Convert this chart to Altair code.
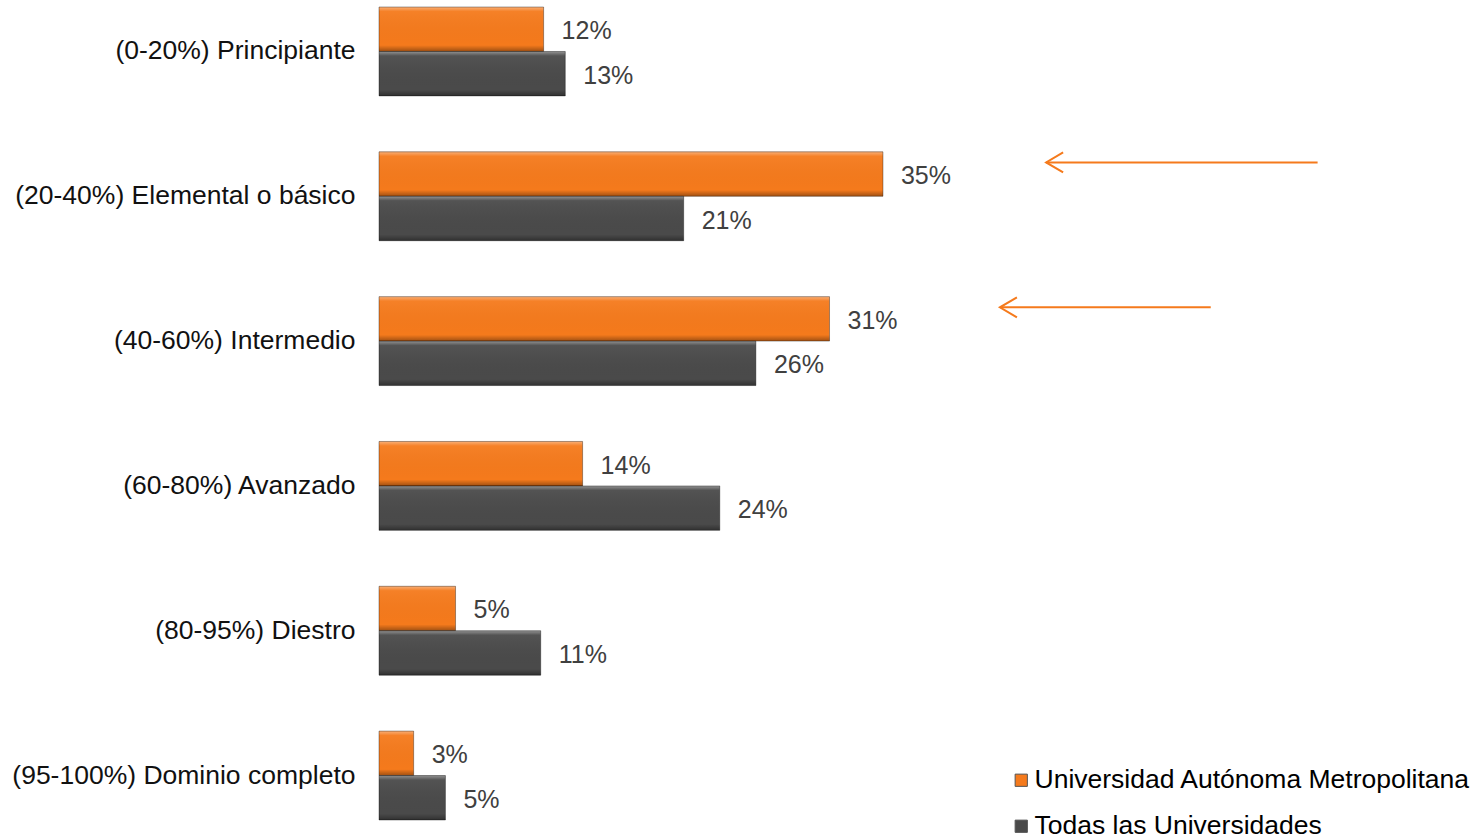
import altair as alt
import pandas as pd

categories = [
    "(0-20%) Principiante",
    "(20-40%) Elemental o básico",
    "(40-60%) Intermedio",
    "(60-80%) Avanzado",
    "(80-95%) Diestro",
    "(95-100%) Dominio completo",
]
series_names = ["Universidad Autónoma Metropolitana", "Todas las Universidades"]
uam_values = [11.4, 34.9, 31.2, 14.1, 5.3, 2.4]
todas_values = [12.9, 21.1, 26.1, 23.6, 11.2, 4.6]
uam_labels = ["12%", "35%", "31%", "14%", "5%", "3%"]
todas_labels = ["13%", "21%", "26%", "24%", "11%", "5%"]

# annotation arrows (in % units of the x axis)
arrow_categories = ["(20-40%) Elemental o básico", "(40-60%) Intermedio"]
arrow_from = [65.0, 57.6]
arrow_to = [46.2, 43.0]

ORANGE = "#F57A1C"
GRAY = "#4A4A4A"
FONT = "Liberation Sans"

rows = []
for c, v, l in zip(categories, uam_values, uam_labels):
    rows.append({"category": c, "series": series_names[0], "value": v, "label": l})
for c, v, l in zip(categories, todas_values, todas_labels):
    rows.append({"category": c, "series": series_names[1], "value": v, "label": l})
df = pd.DataFrame(rows)

arrows = pd.DataFrame({
    "category": arrow_categories,
    "start": arrow_from,
    "end": arrow_to,
})

y_scale = alt.Scale(domain=categories, paddingInner=0.386, paddingOuter=0)
y_axis = alt.Axis(title=None, domain=False, ticks=False, labelFontSize=26.5,
                  labelColor="#111111", labelPadding=24, labelFont=FONT, labelLimit=0)
y_enc = alt.Y("category:N", sort=categories, scale=y_scale, axis=y_axis)
yoff_enc = alt.YOffset("series:N", sort=series_names,
                       scale=alt.Scale(domain=series_names, paddingInner=0, paddingOuter=0))
x_scale = alt.Scale(domain=[0, 75], nice=False, zero=True)

base = alt.Chart(df).encode(
    y=y_enc,
    yOffset=yoff_enc,
    x=alt.X("value:Q", scale=x_scale, axis=None),
)

bars = base.mark_bar().encode(
    color=alt.Color(
        "series:N",
        sort=series_names,
        scale=alt.Scale(domain=series_names, range=[ORANGE, GRAY]),
        legend=alt.Legend(
            title=None, orient="none", legendX=629, legendY=760,
            labelFontSize=26.5, labelFont=FONT, labelColor="#000000",
            symbolType="square", symbolSize=150, symbolStrokeWidth=1,
            symbolStrokeColor="#555555", rowPadding=19, labelOffset=0, labelLimit=0,
        ),
    )
)

bevel = alt.Gradient(
    gradient="linear", x1=0, y1=0, x2=0, y2=1,
    stops=[
        alt.GradientStop(offset=0, color="rgba(255,255,255,0.4)"),
        alt.GradientStop(offset=0.1, color="rgba(255,255,255,0.05)"),
        alt.GradientStop(offset=0.86, color="rgba(0,0,0,0)"),
        alt.GradientStop(offset=1, color="rgba(0,0,0,0.35)"),
    ],
)
overlay = base.mark_bar(fill=bevel, stroke="rgba(0,0,0,0.35)", strokeWidth=1)

labels = base.mark_text(align="left", baseline="middle", dx=18, dy=2, fontSize=25,
                        font=FONT, color="#404040").encode(text="label:N")

arrow_y = alt.Y("category:N", sort=categories, scale=y_scale, axis=y_axis, bandPosition=0.12)
arrow_base = alt.Chart(arrows).encode(y=arrow_y)
arrow_lines = arrow_base.mark_rule(color=ORANGE, strokeWidth=2).encode(
    x=alt.X("start:Q", scale=x_scale, axis=None), x2="end:Q"
)
arrow_heads = arrow_base.mark_point(
    shape="M1.7,-1L0,0L1.7,1", size=400, filled=False, color=ORANGE, strokeWidth=2, opacity=1
).encode(x=alt.X("end:Q", scale=x_scale, axis=None))

chart = alt.layer(bars, overlay, labels, arrow_lines, arrow_heads).properties(
    width=1083, height=813,
    autosize=alt.AutoSizeParams(type="none"),
    padding={"left": 379, "top": 7, "right": 14, "bottom": 19},
).configure(font=FONT, background="white").configure_view(stroke=None, strokeWidth=0)

chart.save("out.html", embed_options={"renderer": "svg", "actions": False})
